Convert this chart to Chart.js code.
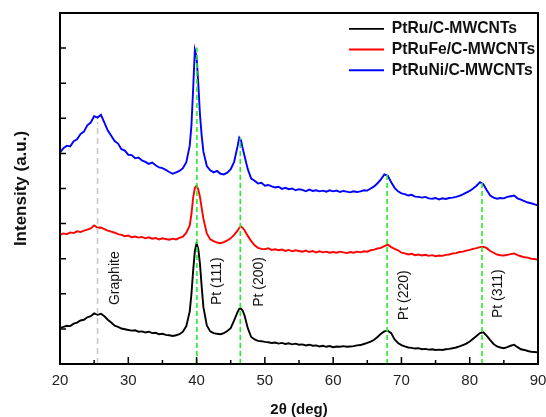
<!DOCTYPE html>
<html>
<head>
<meta charset="utf-8">
<script src="https://cdn.jsdelivr.net/npm/chart.js@4.4.1/dist/chart.umd.min.js"></script>
<style>
  html, body { margin: 0; padding: 0; background: #fff; }
  canvas { display: block; }
</style>
</head>
<body>
<canvas id="xrd-chart" width="546" height="417"></canvas>
<script>
// 2-theta sampling (deg), denser around the Pt peaks
const twoTheta = [
  20, 20.5, 21, 21.5, 22, 22.5, 23, 23.5, 24, 24.5, 25, 25.5, 26, 26.5, 27, 27.5, 28, 28.5, 29, 29.5,
  30, 30.5, 31, 31.5, 32, 32.5, 33, 33.5, 34, 34.5, 35, 35.5, 36, 36.5, 37, 37.5, 38, 38.5,
  39, 39.25, 39.5, 39.75, 40, 40.25, 40.5, 40.75, 41,
  41.5, 42, 42.5, 43, 43.5, 44, 44.5, 45, 45.5, 46, 46.25, 46.5, 46.75,
  47, 47.5, 48, 48.5, 49, 49.5, 50, 50.5, 51, 51.5, 52, 52.5, 53, 53.5, 54, 54.5, 55, 55.5, 56, 56.5,
  57, 57.5, 58, 58.5, 59, 59.5, 60, 60.5, 61, 61.5, 62, 62.5, 63, 63.5, 64, 64.5, 65, 65.5, 66, 66.5,
  67, 67.5, 68, 68.5, 69, 69.5, 70, 70.5, 71, 71.5, 72, 72.5, 73, 73.5, 74, 74.5, 75, 75.5, 76, 76.5,
  77, 77.5, 78, 78.5, 79, 79.5, 80, 80.5, 81, 81.5, 82, 82.5, 83, 83.5, 84, 84.5, 85, 85.5, 86, 86.5,
  87, 87.5, 88, 88.5, 89, 89.5, 90
];

const ptRu = [
  1.02, 1.06, 1.09, 1.08, 1.15, 1.18, 1.24, 1.26, 1.33, 1.36, 1.44, 1.40, 1.43, 1.36, 1.26, 1.18, 1.09, 1.06, 1.01, 0.99,
  0.97, 0.95, 0.96, 0.92, 0.93, 0.90, 0.92, 0.88, 0.89, 0.85, 0.86, 0.83, 0.82, 0.80, 0.82, 0.85, 0.92, 1.08,
  1.50, 2.00, 2.66, 3.22, 3.44, 3.28, 2.85, 2.20, 1.62,
  1.10, 0.93, 0.88, 0.86, 0.85, 0.88, 0.94, 1.02, 1.24, 1.48, 1.57, 1.58, 1.52,
  1.40, 1.02, 0.77, 0.70, 0.66, 0.65, 0.63, 0.62, 0.60, 0.61, 0.58, 0.60, 0.57, 0.59, 0.56, 0.58, 0.55, 0.56, 0.53, 0.55,
  0.52, 0.53, 0.50, 0.52, 0.49, 0.51, 0.48, 0.50, 0.49, 0.51, 0.49, 0.50, 0.51, 0.53, 0.54, 0.57, 0.60, 0.64, 0.69, 0.77,
  0.86, 0.93, 0.95, 0.88, 0.70, 0.60, 0.54, 0.50, 0.47, 0.46, 0.44, 0.45, 0.42, 0.43, 0.41, 0.42, 0.40, 0.41, 0.40, 0.42,
  0.43, 0.45, 0.47, 0.50, 0.54, 0.58, 0.64, 0.72, 0.80, 0.88, 0.90, 0.80, 0.68, 0.57, 0.50, 0.47, 0.45, 0.48, 0.52, 0.55,
  0.48, 0.42, 0.40, 0.37, 0.35, 0.34, 0.33
];

const ptRuFe = [
  3.68, 3.72, 3.70, 3.75, 3.73, 3.78, 3.76, 3.80, 3.83, 3.86, 3.95, 3.88, 3.89, 3.84, 3.80, 3.77, 3.74, 3.70, 3.68, 3.64,
  3.66, 3.61, 3.63, 3.60, 3.62, 3.58, 3.61, 3.57, 3.59, 3.55, 3.58, 3.56, 3.54, 3.57, 3.55, 3.59, 3.63, 3.74,
  3.95, 4.28, 4.74, 5.02, 5.08, 4.97, 4.76, 4.44, 4.14,
  3.72, 3.55, 3.50, 3.46, 3.44, 3.47, 3.52, 3.58, 3.68, 3.80, 3.88, 3.92, 3.88,
  3.82, 3.65, 3.50, 3.38, 3.31, 3.28, 3.27, 3.30, 3.25, 3.27, 3.24, 3.26, 3.22, 3.25, 3.21, 3.24, 3.22, 3.20, 3.23, 3.19,
  3.22, 3.18, 3.21, 3.18, 3.20, 3.17, 3.19, 3.17, 3.20, 3.18, 3.16, 3.19, 3.17, 3.20, 3.18, 3.21, 3.20, 3.24, 3.26, 3.29,
  3.31, 3.36, 3.40, 3.33, 3.28, 3.24, 3.17, 3.15, 3.12, 3.14, 3.10, 3.12, 3.09, 3.11, 3.08, 3.10, 3.07, 3.09, 3.08, 3.11,
  3.12, 3.15, 3.16, 3.19, 3.20, 3.23, 3.25, 3.28, 3.30, 3.33, 3.34, 3.30, 3.22, 3.17, 3.12, 3.10, 3.09, 3.11, 3.13, 3.15,
  3.10, 3.07, 3.04, 3.03, 3.00, 2.99, 2.97
];

const ptRuNi = [
  6.02, 6.15, 6.22, 6.20, 6.35, 6.40, 6.55, 6.62, 6.80, 6.88, 7.06, 7.02, 7.10, 6.88, 6.65, 6.50, 6.35, 6.28, 6.12, 6.08,
  5.96, 5.95, 5.86, 5.88, 5.80, 5.76, 5.70, 5.74, 5.66, 5.60, 5.58, 5.53, 5.47, 5.42, 5.46, 5.50, 5.58, 5.75,
  6.22, 6.80, 7.85, 8.95, 8.75, 8.00, 7.10, 6.50, 6.05,
  5.64, 5.52, 5.46, 5.50, 5.42, 5.40, 5.45, 5.55, 5.76, 6.20, 6.45, 6.38, 6.15,
  5.95, 5.55, 5.28, 5.22, 5.14, 5.16, 5.08, 5.10, 5.06, 5.03, 5.05, 4.99, 5.02, 4.98, 5.00, 4.95, 4.98, 4.96, 4.92, 4.97,
  4.93, 4.95, 4.92, 4.94, 4.91, 4.95, 4.92, 4.94, 4.90, 4.93, 4.91, 4.89, 4.92, 4.90, 4.92, 4.95, 4.94, 5.00, 5.06, 5.15,
  5.26, 5.40, 5.36, 5.18, 5.02, 4.92, 4.86, 4.84, 4.80, 4.82, 4.77, 4.76, 4.74, 4.76, 4.72, 4.71, 4.73, 4.69, 4.72, 4.70,
  4.73, 4.74, 4.76, 4.79, 4.83, 4.88, 4.93, 5.00, 5.08, 5.18, 5.12, 4.95, 4.80, 4.74, 4.71, 4.73, 4.72, 4.76, 4.78, 4.80,
  4.72, 4.68, 4.64, 4.60, 4.58, 4.55, 4.52
];

const seriesNames = ["PtRu/C-MWCNTs", "PtRuFe/C-MWCNTs", "PtRuNi/C-MWCNTs"];
const seriesColors = ["#000000", "#ff0000", "#0000ff"];
const xTicks = [20, 30, 40, 50, 60, 70, 80, 90];

// reflection markers: 2-theta position and how high the dashed guide reaches
const peakNames = ["Graphite", "Pt (111)", "Pt (200)", "Pt (220)", "Pt (311)"];
const peakPos = [25.5, 40.05, 46.4, 67.9, 81.8];
const peakGuideTop = [6.9, 9.02, 6.44, 5.39, 5.19];
// where each peak name sits (data units, text foot)
const peakLabelX = [28.1, 43.0, 49.1, 70.4, 84.1];
const peakLabelY = [1.68, 1.68, 1.63, 1.25, 1.31];

const FONT = "'Liberation Sans', Arial, Helvetica, sans-serif";
Chart.defaults.font.family = FONT;
Chart.defaults.color = "#1a1a1a";

// Box around the plot + inward tick marks + dashed peak guides + peak names
const decorPlugin = {
  id: "decor",
  afterDatasetsDraw(chart) {
    const { ctx, chartArea: a, scales: { x, y } } = chart;
    ctx.save();

    // dashed guides
    peakPos.forEach((pos, i) => {
      const px = x.getPixelForValue(pos);
      ctx.beginPath();
      ctx.setLineDash(i === 0 ? [6, 4] : [5, 3]);
      ctx.strokeStyle = i === 0 ? "#c8c8c8" : "#22ee22";
      ctx.lineWidth = 1.6;
      ctx.moveTo(px, a.bottom);
      ctx.lineTo(px, y.getPixelForValue(peakGuideTop[i]));
      ctx.stroke();
    });
    ctx.setLineDash([]);

    // inward ticks
    ctx.strokeStyle = "#000";
    ctx.lineWidth = 1.5;
    ctx.beginPath();
    xTicks.forEach((v, i) => {
      const px = x.getPixelForValue(v);
      ctx.moveTo(px, a.bottom);
      ctx.lineTo(px, a.bottom - 7);
      if (i < xTicks.length - 1) {
        const mx = x.getPixelForValue((v + xTicks[i + 1]) / 2);
        ctx.moveTo(mx, a.bottom);
        ctx.lineTo(mx, a.bottom - 4);
      }
    });
    y.ticks.forEach(t => {
      if (t.value <= y.min || t.value >= y.max) return;
      const py = y.getPixelForValue(t.value);
      ctx.moveTo(a.left, py);
      ctx.lineTo(a.left + 6, py);
    });
    ctx.stroke();

    // frame
    ctx.lineWidth = 2;
    ctx.strokeRect(a.left, a.top, a.right - a.left, a.bottom - a.top);

    // peak names, rotated
    ctx.fillStyle = "#111";
    ctx.font = "14px " + FONT;
    ctx.textAlign = "left";
    ctx.textBaseline = "middle";
    peakNames.forEach((name, i) => {
      ctx.save();
      ctx.translate(x.getPixelForValue(peakLabelX[i]), y.getPixelForValue(peakLabelY[i]));
      ctx.rotate(-Math.PI / 2);
      ctx.fillText(name, 0, 0);
      ctx.restore();
    });
    ctx.restore();
  },
  // move the legend into the upper right corner of the plot
  afterLayout(chart) {
    const lg = chart.legend;
    if (!lg) return;
    const w = lg.width, h = lg.height;
    lg.left = 344;
    lg.top = 16;
    lg.right = lg.left + w;
    lg.bottom = lg.top + h;
  }
};

const datasets = [ptRu, ptRuFe, ptRuNi].map((vals, i) => ({
  label: seriesNames[i],
  data: twoTheta.map((t, k) => ({ x: t, y: vals[k] })),
  borderColor: seriesColors[i],
  backgroundColor: seriesColors[i],
  borderWidth: 1.9,
  pointRadius: 0,
  tension: 0
}));

new Chart(document.getElementById("xrd-chart").getContext("2d"), {
  type: "line",
  data: { datasets },
  options: {
    responsive: false,
    animation: false,
    layout: { padding: { top: 13, right: 0, left: 0, bottom: 0 } },
    plugins: {
      tooltip: { enabled: false },
      legend: {
        position: "chartArea",
        align: "start",
        labels: {
          usePointStyle: true,
          pointStyle: "line",
          pointStyleWidth: 35,
          padding: 5,
          color: "#111",
          font: { size: 15.7, weight: "bold", lineHeight: 1 }
        }
      }
    },
    scales: {
      x: {
        type: "linear",
        min: 20,
        max: 90,
        afterBuildTicks: s => { s.ticks = xTicks.map(v => ({ value: v })); },
        afterFit: s => { s.height = 53; s.paddingLeft = 0; s.paddingRight = 8; },
        grid: { display: false, drawTicks: false },
        border: { display: false },
        ticks: { padding: 8, font: { size: 15 }, color: "#222" },
        title: {
          display: true,
          text: "2θ (deg)",
          font: { size: 15, weight: "bold", lineHeight: 1 },
          padding: { top: 0, bottom: 0 },
          color: "#111"
        }
      },
      y: {
        min: 0,
        max: 10,
        afterFit: s => { s.width = 60; },
        grid: { display: false, drawTicks: false },
        border: { display: false },
        ticks: { display: false, stepSize: 1 },
        title: {
          display: true,
          text: "Intensity (a.u.)",
          font: { size: 17, weight: "bold", lineHeight: 1 },
          padding: { top: 13, bottom: 0 },
          color: "#111"
        }
      }
    }
  },
  plugins: [decorPlugin]
});
</script>
</body>
</html>
